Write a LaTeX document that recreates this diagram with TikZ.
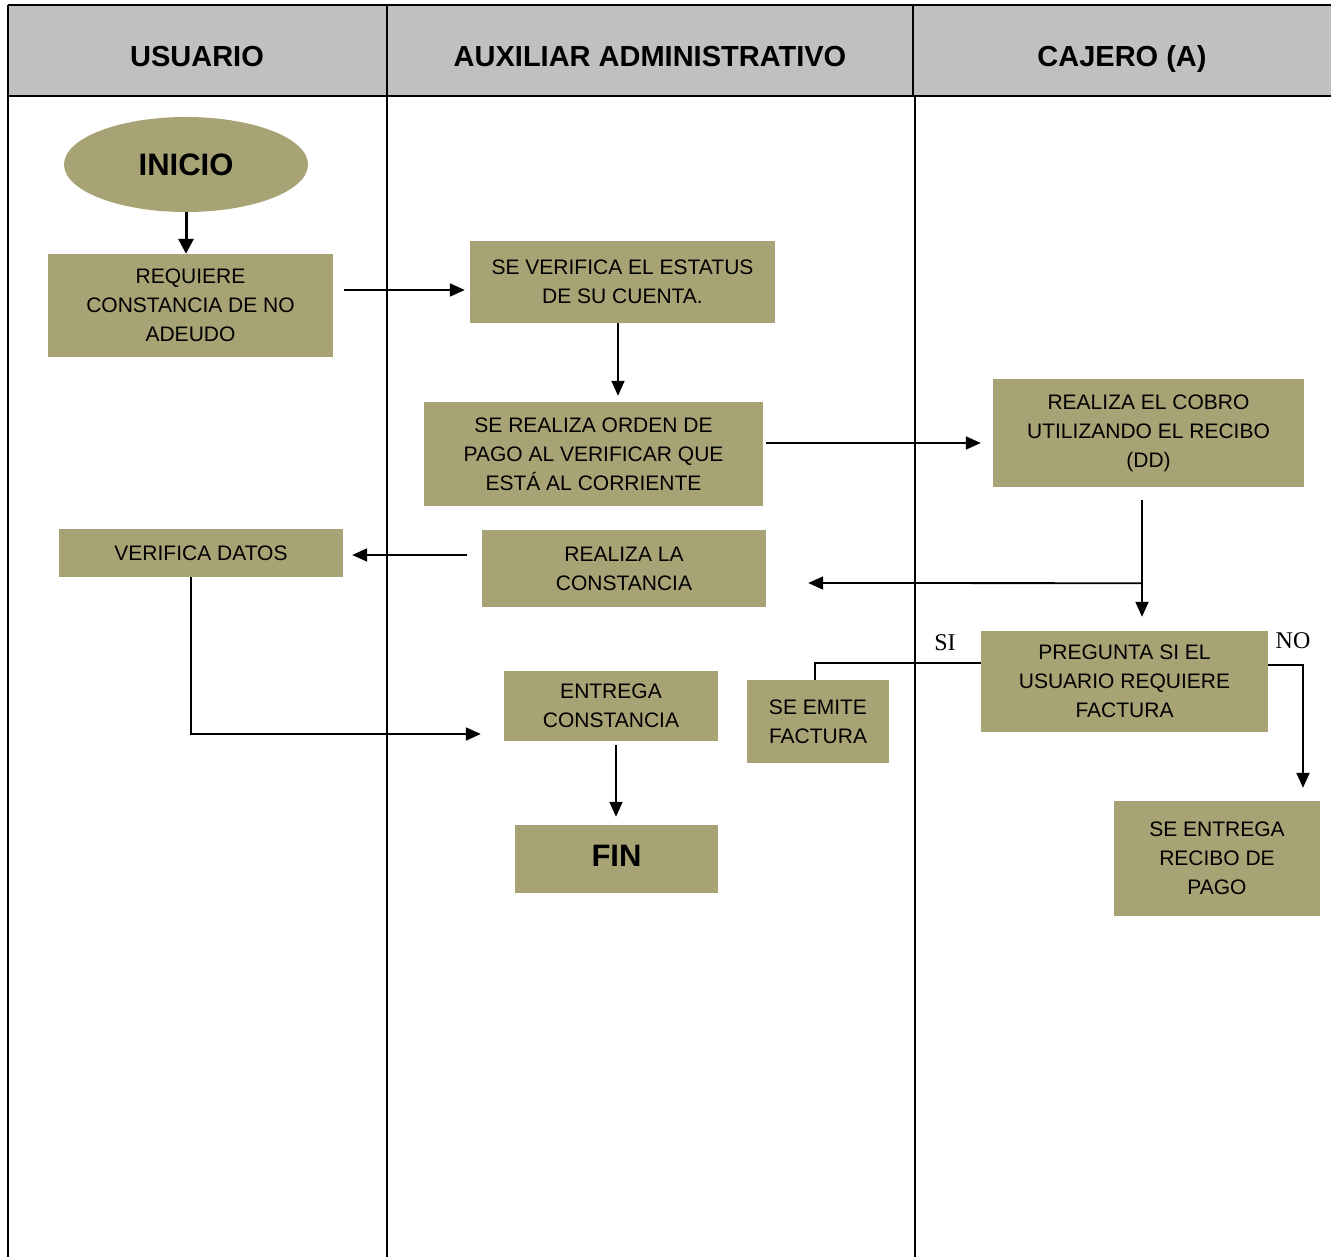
\documentclass[tikz,border=0pt]{standalone}
\usepackage{fontspec}
\setmainfont{Liberation Sans}
\newfontfamily\labelserif{Liberation Serif}
\usetikzlibrary{shapes.geometric,arrows.meta,calc}
\definecolor{boxfill}{HTML}{A8A374}
\definecolor{headgray}{HTML}{C0C0C0}
\begin{document}
\begin{tikzpicture}[x=1pt,y=-1pt,
  box/.style={fill=boxfill, inner sep=0pt, align=center, font=\fontsize{21}{29}\selectfont},
  bigbox/.style={fill=boxfill, inner sep=0pt, align=center, font=\bfseries\fontsize{31}{34}\selectfont},
  arr/.style={line width=1.8pt, -{Triangle[length=15pt,width=13pt]}},
  ln/.style={line width=1.8pt},
  lane/.style={line width=2pt},
  head/.style={font=\bfseries\fontsize{29}{32}\selectfont, anchor=base},
  lbl/.style={font=\labelserif\fontsize{24}{28}\selectfont}]
\useasboundingbox (0,0) rectangle (1331,1257);
% header band and lanes
\fill[headgray] (8,5) rectangle (1331,96);
\draw[lane] (8,5) -- (1331,5);
\draw[lane] (8,96) -- (1331,96);
\draw[lane] (8,5) -- (8,1257);
\draw[lane] (387,5) -- (387,1257);
\draw[lane] (913,5) -- (913,96);
\draw[lane] (915,96) -- (915,1257);
\node[head] (h1) at (197,67) {USUARIO};
\node[head] (h2) at (650,67) {AUXILIAR ADMINISTRATIVO};
\node[head] (h3) at (1122,67) {CAJERO (A)};
% nodes
\node[ellipse, fill=boxfill, inner sep=0pt, minimum width=244, minimum height=95,
      font=\bfseries\fontsize{31}{34}\selectfont] (inicio) at (186,164.5) {INICIO};
\node[box, minimum width=285, minimum height=103] (req) at (190.5,305.5) {REQUIERE\\CONSTANCIA DE NO\\ADEUDO};
\node[box, minimum width=305, minimum height=82] (ver) at (622.5,282) {SE VERIFICA EL ESTATUS\\DE SU CUENTA.};
\node[box, minimum width=339, minimum height=104] (orden) at (593.5,454) {SE REALIZA ORDEN DE\\PAGO AL VERIFICAR QUE\\ESTÁ AL CORRIENTE};
\node[box, minimum width=311, minimum height=108] (cobro) at (1148.5,433) {REALIZA EL COBRO\\UTILIZANDO EL RECIBO\\(DD)};
\node[box, minimum width=284, minimum height=48] (verif) at (201,553) {VERIFICA DATOS};
\node[box, minimum width=284, minimum height=77] (const) at (624,568.5) {REALIZA LA\\CONSTANCIA};
\node[box, minimum width=287, minimum height=101] (preg) at (1124.5,681.5) {PREGUNTA SI EL\\USUARIO REQUIERE\\FACTURA};
\node[box, minimum width=142, minimum height=83] (emite) at (818,721.5) {SE EMITE\\FACTURA};
\node[box, minimum width=214, minimum height=70] (entrega) at (611,706) {ENTREGA\\CONSTANCIA};
\node[bigbox, minimum width=203, minimum height=68, text height=22pt, text depth=8pt] (fin) at (616.5,859) {FIN};
\node[box, minimum width=206, minimum height=115] (recibo) at (1217,858.5) {SE ENTREGA\\RECIBO DE\\PAGO};
\node[lbl] (si) at (945,643) {SI};
\node[lbl] (no) at (1293,641) {NO};
% connectors
\draw[arr, line width=3pt, -{Triangle[length=15pt,width=15pt]}] (inicio.south) -- (inicio.south |- req.north);
\draw[arr] ($(req.east)+(11,-15.5)$) -- ($(ver.west)+(-5,8)$);
\draw[arr] ($(ver.south)+(-4.5,0)$) -- ($(orden.north)+(24.5,-6)$);
\draw[arr] ($(orden.east)+(3,-11)$) -- ($(cobro.west)+(-12,10)$);
\coordinate (jn) at ($(cobro.south)+(-6.5,96)$);
\draw[ln] ($(cobro.south)+(-6.5,13)$) -- (jn);
\draw[arr] (jn) -- ($(preg.north)+(17.5,-14)$);
\draw[arr] (jn) -- ($(const.east)+(42,14.5)$);
\draw[arr] ($(const.west)+(-15,-13.5)$) -- ($(verif.east)+(9,2)$);
\draw[arr] ($(verif.south)+(-10,0)$) |- ($(entrega.west)+(-23,28)$);
\draw[arr] ($(entrega.south)+(5,4)$) -- ($(fin.north)+(-0.5,-8)$);
\draw[ln] ($(preg.west)+(0,-18.5)$) -| ($(emite.north)+(-3,0)$);
\draw[arr] ($(preg.east)+(0,-16.5)$) -| ($(recibo.north)+(86,-13)$);
\end{tikzpicture}
\end{document}
